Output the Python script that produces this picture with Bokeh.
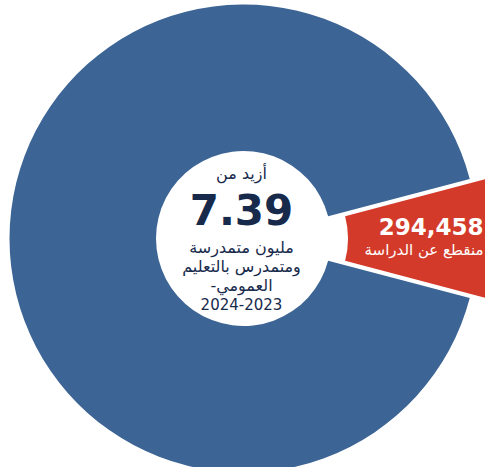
import math
from bokeh.plotting import figure
from bokeh.models import Range1d
from bokeh.core.properties import value
from bokeh.embed import file_html
from bokeh.resources import INLINE

# ---- data ----
slice_labels = ["متمدرسون بالتعليم العمومي", "منقطع عن الدراسة"]
total_students_million = 7.39
dropouts = 294458
# share of the circle each slice occupies in the drawing (visual, not to scale)
display_shares = [0.918, 0.082]
slice_colors = ["#3c6495", "#d33a29"]

center_lines = ["أزيد من", "7.39", "مليون متمدرسة", "ومتمدرس بالتعليم", "-العمومي", "2024-2023"]
red_lines = ["294,458", "منقطع عن الدراسة"]

# ---- layout (pixel coordinates of the reference image) ----
W, H = 485, 467
p = figure(width=W, height=H, output_backend="svg", toolbar_location=None,
           x_range=Range1d(0, W), y_range=Range1d(-H, 0),
           min_border=0, outline_line_color=None)
p.axis.visible = False
p.grid.visible = False
p.background_fill_color = "white"
p.border_fill_color = "white"

cx, cy = 243, -238
r_in, r_out = 87.5, 234
explode = 17

half_red = display_shares[1] * math.pi  # red slice centred on 0 rad
p.annular_wedge(x=cx, y=cy, inner_radius=r_in, outer_radius=r_out,
                start_angle=half_red, end_angle=2 * math.pi - half_red,
                fill_color=slice_colors[0], line_color=None)
p.annular_wedge(x=cx + explode, y=cy, inner_radius=r_in, outer_radius=r_out + 40,
                start_angle=-half_red, end_angle=half_red,
                fill_color=slice_colors[1], line_color=None)

navy = "#172a4c"
font = value("DejaVu Sans")
tx = 241
# centre texts
p.text(x=[tx], y=[-173], text=[center_lines[0]], text_align="center", text_baseline="middle",
       text_font=font, text_font_size="16px", text_color=navy)
p.text(x=[tx], y=[-209], text=[center_lines[1]], text_align="center", text_baseline="middle",
       text_font=font, text_font_size="42px", text_font_style="bold", text_color=navy)
for yy, t in zip([-247, -266, -285], center_lines[2:5]):
    p.text(x=[tx], y=[yy], text=[t], text_align="center", text_baseline="middle",
           text_font=font, text_font_size="16px", text_color=navy)
p.text(x=[tx], y=[-303], text=[center_lines[5]], text_align="center", text_baseline="middle",
       text_font=font, text_font_size="15px", text_color=navy)

# red slice texts (right-aligned inside the visible part of the slice)
rx = 483
p.text(x=[rx], y=[-226], text=[red_lines[0]], text_align="right", text_baseline="middle",
       text_font=font, text_font_size="23px", text_font_style="bold", text_color="white")
p.text(x=[rx], y=[-249], text=[red_lines[1]], text_align="right", text_baseline="middle",
       text_font=font, text_font_size="15px", text_color="white")

open("out.html", "w").write(file_html(p, INLINE))
